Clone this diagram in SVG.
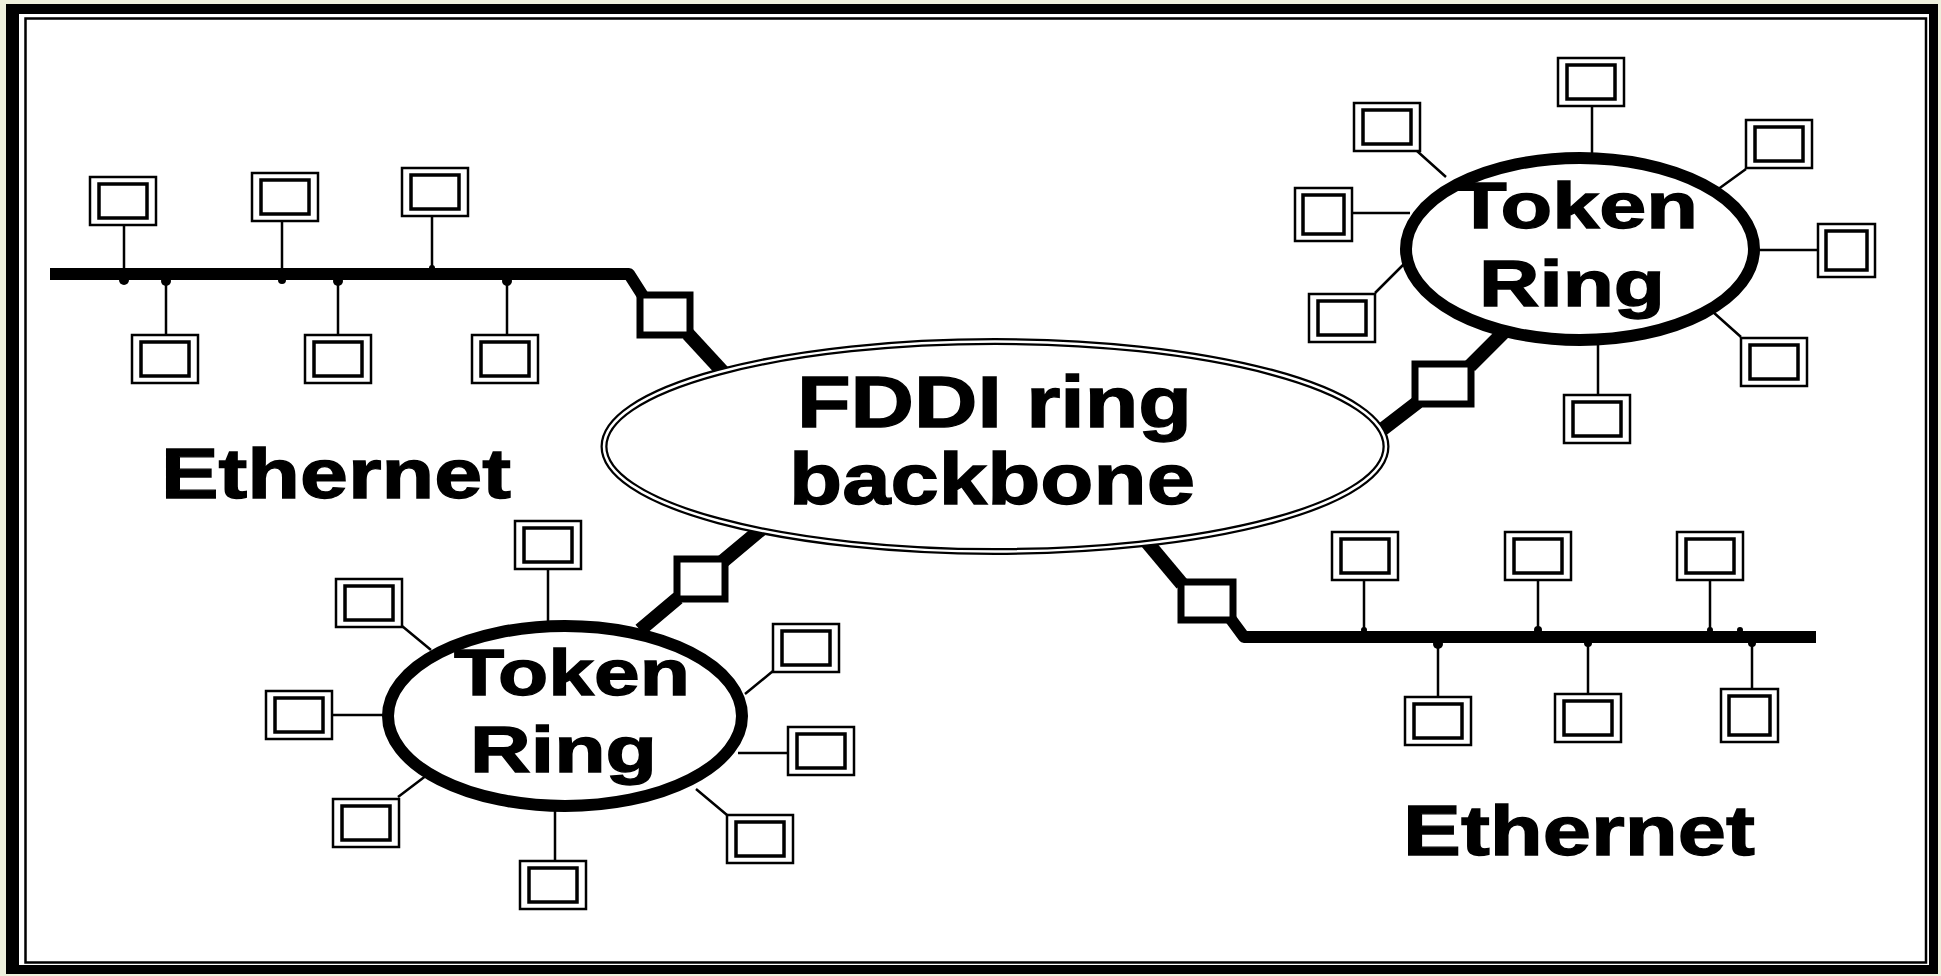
<svg xmlns="http://www.w3.org/2000/svg" xmlns:xlink="http://www.w3.org/1999/xlink" width="1941" height="976" viewBox="0 0 1941 976">
<style>
.stem{stroke:#000;stroke-width:2.5;fill:none}
.bus{stroke:#000;stroke-width:12;fill:none;stroke-linejoin:round}
.link{stroke:#000;stroke-width:14;fill:none}
.ring{fill:none;stroke:#000;stroke-width:12}
.bridge{fill:#fff;stroke:#000;stroke-width:7}
.o{fill:#fff;stroke:#000;stroke-width:2.5}
.i{fill:#fff;stroke:#000;stroke-width:3.5}
.lbl{font-family:"Liberation Sans",Arial,sans-serif;font-weight:bold;fill:#000;stroke:#000;stroke-width:1.3}
.tap{fill:#000}
</style>
<defs>
<g id="st"><rect class="o" x="0" y="0" width="66" height="48"/><rect class="i" x="9" y="7" width="48" height="34"/></g>
<g id="stn"><rect class="o" x="0" y="0" width="57" height="53"/><rect class="i" x="8" y="7" width="41" height="39"/></g>
</defs>
<rect x="0" y="0" width="1941" height="976" fill="#eef0dc"/>
<g id="frame">
<rect x="19" y="14" width="1910" height="951" fill="#fff"/>
<path d="M6 4H1938V974H6Z M19 14V965H1929V14Z" fill="#000" fill-rule="evenodd"/>
<rect x="25.5" y="18.5" width="1900.5" height="944" fill="none" stroke="#000" stroke-width="2.5"/>
</g>
<g id="connectors">
<path class="stem" d="M124 223V274 M282 220V274 M432 215V274 M166 274V335 M338 274V335 M507 274V335"/>
<path class="stem" d="M1364 581V637 M1538 581V637 M1710 581V637 M1438 637V697 M1588 637V694 M1752 637V690"/>
<path class="stem" d="M1592 106V160 M1417 151L1446 177 M1351 213H1410 M1375 293L1404 264 M1746 169L1717 190 M1758 250H1818 M1713 312L1741 337 M1598 338V395"/>
<path class="stem" d="M548 569V628 M402 626L431 650 M332 715H390 M398 797L427 775 M773 671L745 694 M738 753H790 M696 789L727 815 M555 808V861"/>
<path class="bus" d="M50 274H629L643 296"/>
<path class="bus" d="M1230 618L1244 637H1816"/>
<path class="link" d="M688 334L723 372"/>
<path class="link" d="M1510 326L1470 366 M1418 402L1379 432"/>
<path class="link" d="M640 630L678 598 M722 562L764 527"/>
<path class="link" d="M1146 541L1182 584"/>
<g class="tap">
<circle cx="124" cy="280" r="5"/><circle cx="166" cy="281" r="5"/><circle cx="282" cy="280" r="4"/><circle cx="338" cy="281" r="5"/><circle cx="507" cy="281" r="5"/><circle cx="432" cy="268" r="3"/>
<circle cx="1438" cy="644" r="5"/><circle cx="1588" cy="643" r="4"/><circle cx="1752" cy="643" r="4"/><circle cx="1364" cy="630" r="3"/><circle cx="1538" cy="630" r="4"/><circle cx="1710" cy="630" r="3"/><circle cx="1740" cy="630" r="3"/>
</g>
</g>
<g id="fddi">
<ellipse cx="995" cy="446.5" rx="391" ry="105" fill="#fff" stroke="#000" stroke-width="7"/>
<ellipse cx="995" cy="446.5" rx="391" ry="105" fill="none" stroke="#fff" stroke-width="2.5"/>
<text class="lbl" x="797" y="427" font-size="72" textLength="395" lengthAdjust="spacingAndGlyphs">FDDI ring</text>
<text class="lbl" x="789" y="504" font-size="72" textLength="406" lengthAdjust="spacingAndGlyphs">backbone</text>
</g>
<g id="tokenring-tr">
<ellipse cx="1580" cy="249" rx="174" ry="91" fill="#fff"/>
<text class="lbl" x="1455" y="228" font-size="64" textLength="243" lengthAdjust="spacingAndGlyphs">Token</text>
<text class="lbl" x="1479" y="306" font-size="64" textLength="186" lengthAdjust="spacingAndGlyphs">Ring</text>
<ellipse class="ring" cx="1580" cy="249" rx="174" ry="91"/>
</g>
<g id="tokenring-bl">
<ellipse cx="565" cy="716" rx="177" ry="90" fill="#fff"/>
<text class="lbl" x="454" y="695" font-size="64" textLength="236" lengthAdjust="spacingAndGlyphs">Token</text>
<text class="lbl" x="470" y="772" font-size="64" textLength="187" lengthAdjust="spacingAndGlyphs">Ring</text>
<ellipse class="ring" cx="565" cy="716" rx="177" ry="90"/>
</g>
<g id="bridges">
<rect class="bridge" x="640" y="295" width="50" height="40"/>
<rect class="bridge" x="1415" y="364" width="56" height="40"/>
<rect class="bridge" x="677" y="559" width="48" height="40"/>
<rect class="bridge" x="1181" y="582" width="52" height="38"/>
</g>
<g id="stations-ethernet-tl">
<use xlink:href="#st" x="90" y="177"/>
<use xlink:href="#st" x="252" y="173"/>
<use xlink:href="#st" x="402" y="168"/>
<use xlink:href="#st" x="132" y="335"/>
<use xlink:href="#st" x="305" y="335"/>
<use xlink:href="#st" x="472" y="335"/>
</g>
<g id="stations-ethernet-br">
<use xlink:href="#st" x="1332" y="532"/>
<use xlink:href="#st" x="1505" y="532"/>
<use xlink:href="#st" x="1677" y="532"/>
<use xlink:href="#st" x="1405" y="697"/>
<use xlink:href="#st" x="1555" y="694"/>
<use xlink:href="#stn" x="1721" y="689"/>
</g>
<g id="stations-tr">
<use xlink:href="#st" x="1558" y="58"/>
<use xlink:href="#st" x="1354" y="103"/>
<use xlink:href="#stn" x="1295" y="188"/>
<use xlink:href="#st" x="1309" y="294"/>
<use xlink:href="#st" x="1746" y="120"/>
<use xlink:href="#stn" x="1818" y="224"/>
<use xlink:href="#st" x="1741" y="338"/>
<use xlink:href="#st" x="1564" y="395"/>
</g>
<g id="stations-bl">
<use xlink:href="#st" x="515" y="521"/>
<use xlink:href="#st" x="336" y="579"/>
<use xlink:href="#st" x="266" y="691"/>
<use xlink:href="#st" x="333" y="799"/>
<use xlink:href="#st" x="773" y="624"/>
<use xlink:href="#st" x="788" y="727"/>
<use xlink:href="#st" x="727" y="815"/>
<use xlink:href="#st" x="520" y="861"/>
</g>
<g id="labels">
<text class="lbl" x="161" y="498" font-size="70" textLength="350" lengthAdjust="spacingAndGlyphs">Ethernet</text>
<text class="lbl" x="1403" y="855" font-size="70" textLength="352" lengthAdjust="spacingAndGlyphs">Ethernet</text>
</g>
</svg>
